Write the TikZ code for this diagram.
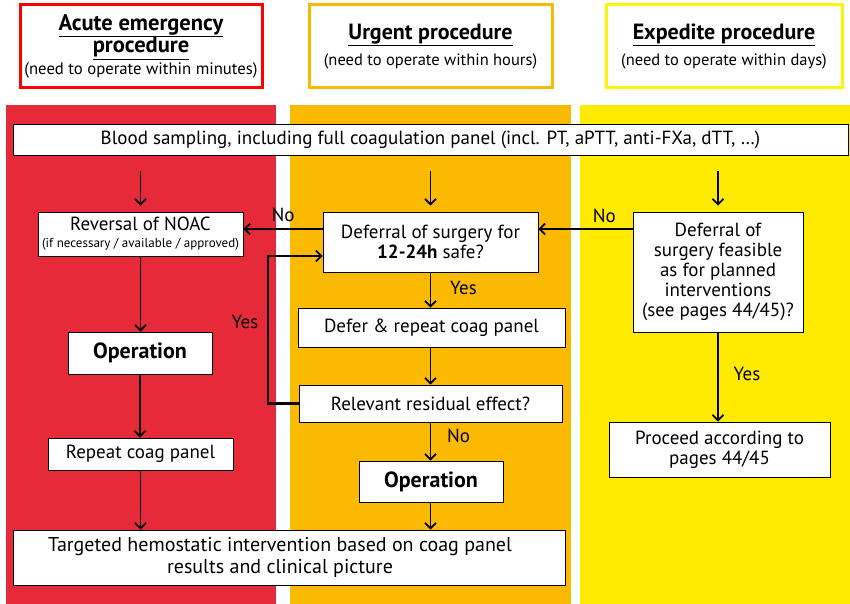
\documentclass[tikz,border=0pt]{standalone}
\usepackage{fontspec}
\setmainfont{PT Sans}
\usetikzlibrary{arrows.meta,shadows}
\definecolor{colred}{HTML}{E62A39}
\definecolor{colorange}{HTML}{FBBA00}
\definecolor{colyellow}{HTML}{FFEA00}
\definecolor{hdred}{HTML}{FF0000}
\definecolor{hdorange}{HTML}{FBBA00}
\definecolor{hdyellow}{HTML}{FFF500}
\begin{document}
\begin{tikzpicture}[x=1pt,y=-1pt,
  font=\fontsize{19}{20}\selectfont,
  box/.style={draw=black, fill=white, line width=0.7pt, inner sep=0pt, align=center,
    drop shadow={shadow xshift=0.8pt, shadow yshift=-0.8pt, opacity=0.5, fill=black}},
  hdr/.style={fill=white, line width=3pt, inner sep=0pt, align=center},
  arr/.style={draw=black, line width=1.8pt, -{Straight Barb[length=5.5pt,width=11pt,line width=1.8pt]}},
  loopline/.style={draw=black, line width=2.8pt, -{Straight Barb[length=5.5pt,width=11pt,line width=1.8pt]}},
  lbl/.style={inner sep=0pt, anchor=center},
  opfont/.style={font=\fontsize{22}{24}\selectfont\bfseries}]
\useasboundingbox (0,0) rectangle (850,604);
% column backgrounds
\fill[colred] (6,105) rectangle (276,604);
\fill[colorange] (290,105) rectangle (571,604);
\fill[colyellow] (580,105) rectangle (850,604);
% headers
\node[hdr, draw=hdred, minimum width=242pt, minimum height=83pt] (h1) at (141,46.5)
  {\fontsize{22.5}{22}\selectfont\bfseries\underline{Acute emergency}\\[-1pt]
   \fontsize{22.5}{22}\selectfont\bfseries\underline{procedure}\\[2pt]
   \fontsize{16.7}{20}\selectfont (need to operate within minutes)};
\node[hdr, draw=hdorange, minimum width=243pt, minimum height=83pt] (h2) at (430.5,46.5)
  {\fontsize{22}{22}\selectfont\bfseries\underline{Urgent procedure}\\[6pt]
   \fontsize{16.5}{20}\selectfont (need to operate within hours)};
\node[hdr, draw=hdyellow, minimum width=236pt, minimum height=83pt] (h3) at (724,46.5)
  {\fontsize{22}{22}\selectfont\bfseries\underline{Expedite procedure}\\[6pt]
   \fontsize{16.5}{20}\selectfont (need to operate within days)};
% boxes
\node[box, minimum width=835pt, minimum height=31pt] (blood) at (430.5,139.5)
  {Blood sampling, including full coagulation panel (incl. PT, aPTT, anti-FXa, dTT, \dots)};
\node[box, minimum width=205pt, minimum height=44pt] (rev) at (140.5,234)
  {Reversal of NOAC\\[-3pt]{\fontsize{13}{14}\selectfont (if necessary / available / approved)}};
\node[box, minimum width=215pt, minimum height=60pt] (def1) at (430.5,242)
  {Deferral of surgery for\\\textbf{12-24h} safe?};
\node[box, minimum width=170pt, minimum height=120pt] (yq) at (718,272)
  {Deferral of\\surgery feasible\\as for planned\\interventions\\(see pages 44/45)?};
\node[box, opfont, minimum width=144pt, minimum height=42pt] (op1) at (140,353) {Operation};
\node[box, minimum width=185pt, minimum height=32pt] (rep) at (140.5,454) {Repeat coag panel};
\node[box, minimum width=267pt, minimum height=39pt] (def2) at (431.5,327.5) {Defer \& repeat coag panel};
\node[box, minimum width=263pt, minimum height=37pt] (rel) at (430.5,403.5) {Relevant residual effect?};
\node[box, opfont, minimum width=144pt, minimum height=41pt] (op2) at (431,481.5) {Operation};
\node[box, minimum width=221pt, minimum height=55pt] (proc) at (719.5,449.5)
  {Proceed according to\\pages 44/45};
\node[box, minimum width=552pt, minimum height=55pt, font=\fontsize{20}{22}\selectfont] (tgt) at (289,557.5)
  {Targeted hemostatic intervention based on coag panel\hspace*{18pt}\\results and clinical picture\hspace*{18pt}};
% arrows from blood sampling
\draw[arr, shorten <=16pt, shorten >=6pt] (rev.north |- blood.south) -- (rev.north);
\draw[arr, shorten <=16pt, shorten >=6pt] (def1.north |- blood.south) -- (def1.north);
\draw[arr, shorten <=16pt, shorten >=6pt] (yq.north |- blood.south) -- (yq.north);
% red column
\draw[arr] (rev.south) -- (rev.south |- op1.north);
\draw[arr] (op1.south) -- (op1.south |- rep.north);
\draw[arr] (rep.south) -- (rep.south |- tgt.north);
% orange column
\draw[arr] (def1.west |- 0,229) -- (rev.east |- 0,229) node[lbl, pos=0.5, yshift=14pt] (no1) {No};
\draw[arr] (def1.south) -- (def1.south |- def2.north) node[lbl, pos=0.45, xshift=33pt] (yes1) {Yes};
\draw[arr] (def1.south |- def2.south) -- (def1.south |- rel.north);
\draw[arr] (def1.south |- rel.south) -- (def1.south |- op2.north) node[lbl, pos=0.35, xshift=28pt] (no2) {No};
\draw[arr] (def1.south |- op2.south) -- (def1.south |- tgt.north);
\coordinate (lp1) at (268,403.5);
\coordinate (lp2) at (268,256);
\draw[loopline] (rel.west) -- (lp1) -- (lp2) -- (def1.west |- lp2);
\node[lbl] (yes2) at (245,322) {Yes};
% yellow column
\draw[arr] (yq.west |- 0,229) -- (def1.east |- 0,229) node[lbl, pos=0.3, yshift=13pt] (no3) {No};
\draw[arr] (yq.south) -- (yq.south |- proc.north) node[lbl, pos=0.47, xshift=29pt] (yes3) {Yes};
\end{tikzpicture}
\end{document}
